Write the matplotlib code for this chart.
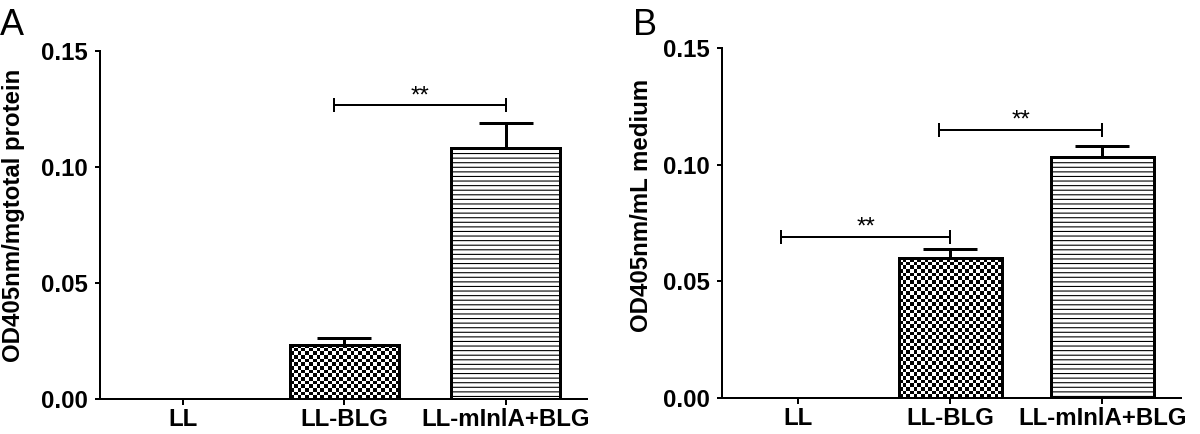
import numpy as np
import matplotlib
matplotlib.use("Agg")
import matplotlib.pyplot as plt

# ---------------- data ----------------
categories = ["LL", "LL-BLG", "LL-mInlA+BLG"]

a_means = [0.0, 0.0233, 0.1082]
a_errs = [0.0, 0.0031, 0.0109]
a_ylabel = "OD405nm/mgtotal protein"

b_means = [0.0, 0.0600, 0.1034]
b_errs = [0.0, 0.0039, 0.0046]
b_ylabel = "OD405nm/mL medium"

yticks = [0.00, 0.05, 0.10, 0.15]
ytick_labels = ["0.00", "0.05", "0.10", "0.15"]

# significance annotations: (left group, right group, level, text)
a_sig = [(1, 2, 0.1267, "**")]
b_sig = [(0, 1, 0.0690, "**"), (1, 2, 0.1150, "**")]

# ---------------- style ----------------
DPI = 110
W, H = 1200, 434
def px(v):
    return v * 72.0 / DPI

plt.rcParams["font.family"] = ["Liberation Sans", "DejaVu Sans"]
plt.rcParams["hatch.linewidth"] = px(1.1)
plt.rcParams["hatch.color"] = "black"

fig = plt.figure(figsize=(W / DPI, H / DPI), dpi=DPI)

def make_panel(rect, xlim, means, errs, ylabel, sig, left_offsets):
    ax = fig.add_axes(rect)
    x = np.arange(len(categories))
    ax.set_xlim(*xlim)
    ax.set_ylim(0, 0.15)
    bars = ax.bar(x, means, width=0.675, facecolor="white", edgecolor="black",
                  linewidth=px(3), zorder=2)
    for b, m in zip(bars, means):
        if m == 0:
            b.set_linewidth(0)
    # horizontal-line hatch on third bar
    bars[2].set_hatch("----")
    # checkerboard on second bar
    cb = bars[1]
    cb.set_facecolor("none")
    x0, y0 = cb.get_x(), cb.get_y()
    x1, y1 = x0 + cb.get_width(), y0 + cb.get_height()
    p0 = ax.transData.transform((x0, y0))
    p1 = ax.transData.transform((x1, y1))
    cell = 3.7  # pixels
    nx = max(1, int(round(abs(p1[0] - p0[0]) / cell)))
    ny = max(1, int(round(abs(p1[1] - p0[1]) / cell)))
    checker = (np.indices((ny, nx)).sum(axis=0) % 2).astype(float)
    im = ax.imshow(checker, cmap="gray", vmin=0, vmax=1, extent=(x0, x1, y0, y1),
                   origin="lower", aspect="auto", interpolation="nearest", zorder=1.5)
    im.set_clip_path(cb)
    # error bars (upper only)
    nz = [i for i, m in enumerate(means) if m > 0]
    ax.errorbar([x[i] for i in nz], [means[i] for i in nz],
                yerr=[[0] * len(nz), [errs[i] for i in nz]],
                fmt="none", ecolor="black", elinewidth=px(3), capsize=px(27),
                capthick=px(3), zorder=3)
    # significance brackets
    for (i, j, lvl, txt), off in zip(sig, left_offsets):
        xs = [x[i] + off, x[j]]
        ax.plot(xs, [lvl, lvl], color="black", lw=px(2), marker="|",
                markersize=px(14), mew=px(2), solid_capstyle="butt", zorder=3)
        ax.annotate(txt, xy=(np.mean(xs), lvl), xytext=(0, px(3)),
                    textcoords="offset points", ha="center", va="baseline",
                    fontsize=px(24), clip_on=False)
    ax.set_xlim(*xlim)
    ax.set_ylim(0, 0.15)
    # axes styling
    for s in ("top", "right"):
        ax.spines[s].set_visible(False)
    for s in ("left", "bottom"):
        ax.spines[s].set_linewidth(px(2))
    ax.set_xticks(x)
    ax.set_xticklabels(categories, fontsize=px(24), fontweight="bold")
    ax.set_yticks(yticks)
    ax.set_yticklabels(ytick_labels, fontsize=px(24), fontweight="bold")
    ax.tick_params(axis="y", length=px(5), width=px(2), pad=px(7))
    ax.tick_params(axis="x", length=px(6), width=px(2), pad=px(3))
    return ax

axA = make_panel([100 / W, (H - 399) / H, 487 / W, 348 / H], (-0.512, 2.503),
                 a_means, a_errs, a_ylabel, a_sig, [-0.065])
axB = make_panel([722 / W, (H - 398) / H, 459 / W, 350 / H], (-0.498, 2.516),
                 b_means, b_errs, b_ylabel, b_sig, [-0.11, -0.07])

# y labels positioned in figure pixels
fig.text(13.5 / W, 1 - 215 / H, a_ylabel, rotation=90, ha="center", va="center",
         fontsize=px(24), fontweight="bold")
fig.text(641 / W, 1 - 205 / H, b_ylabel, rotation=90, ha="center", va="center",
         fontsize=px(24), fontweight="bold")

# panel letters
fig.text(0 / W, 1 - 35 / H, "A", ha="left", va="baseline", fontsize=px(36))
fig.text(633 / W, 1 - 35 / H, "B", ha="left", va="baseline", fontsize=px(36))

fig.savefig("out.png", dpi=DPI)
